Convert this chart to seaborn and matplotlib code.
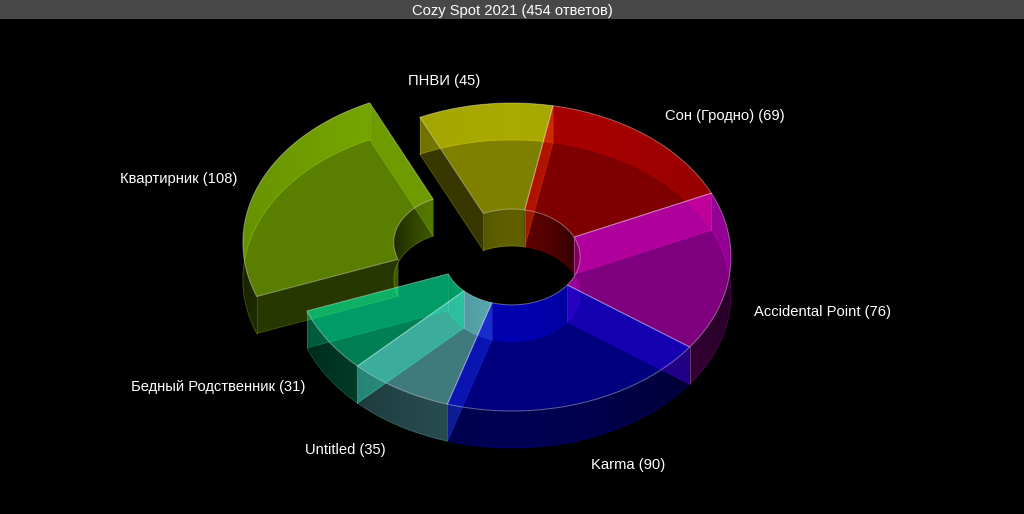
import numpy as np
import pandas as pd
import seaborn as sns
import matplotlib
matplotlib.use("Agg")
import matplotlib.pyplot as plt
from matplotlib.patches import Polygon

# ---- data -------------------------------------------------------------
names = ["ПНВИ", "Сон (Гродно)", "Accidental Point", "Karma", "Untitled",
         "Бедный Родственник", "Квартирник"]
votes = [45, 69, 76, 90, 35, 31, 108]
slice_colors = ["#ffff00", "#ff0000", "#ff00ff", "#0000ff", "#7ff5ff",
                "#00ffa8", "#b4ff00"]
exploded = [0, 0, 0, 0, 0, 0, 0.2475]
title = "Cozy Spot 2021 (454 ответов)"

# ---- layout -----------------------------------------------------------
CX, CY = 512, 257
RX, RY = 219, 154
HOLE = 0.311
DEPTH = 37
START = -24.88
paint_order = [0, 6, 1, 2, 4, 5, 3]
label_xy = [(444, 81), (725, 116), (822, 312), (628, 465), (345, 450),
            (218, 387), (179, 179)]

sns.set_theme(style="dark", rc={"figure.facecolor": "black",
                                "axes.facecolor": "black"})
plt.rcParams["font.family"] = ["Liberation Sans", "DejaVu Sans"]
palette = sns.color_palette(slice_colors)

df = pd.DataFrame({"name": names, "votes": votes, "explode": exploded})
df["sweep"] = df["votes"] / df["votes"].sum() * 360
df["a0"] = START + df["sweep"].cumsum().shift(fill_value=0)
df["a1"] = df["a0"] + df["sweep"]
df["mid"] = (df["a0"] + df["a1"]) / 2

fig = plt.figure(figsize=(10.24, 5.14), dpi=100)
ax = fig.add_axes([0, 0, 1, 1])
ax.set_xlim(0, 1024)
ax.set_ylim(514, 0)
ax.set_autoscale_on(False)
ax.axis("off")

z = [10]


def nz():
    z[0] += 1
    return z[0]


def arc(cx, cy, frac, a0, a1):
    t = np.radians(np.linspace(a0, a1, 120))
    return cx + frac * RX * np.sin(t), cy - frac * RY * np.cos(t)


def curved_wall(cx, cy, frac, a0, a1, col, peak):
    x, y = arc(cx, cy, frac, a0, a1)
    px = np.r_[x, x[::-1]]
    py = np.r_[y, y[::-1] + DEPTH]
    x0, x1 = px.min(), px.max()
    cols = np.linspace(x0, x1, max(int(x1 - x0), 2))
    n = (cols - cx) / (frac * RX)
    rgba = np.zeros((1, len(cols), 4))
    rgba[..., :3] = col
    rgba[..., 3] = peak * (0.45 + 0.55 * (1 - np.clip(n, -1, 1) ** 2))
    zz = nz()
    im = ax.imshow(rgba, extent=(x0, x1, py.max(), py.min()), aspect="auto",
                   interpolation="bilinear", zorder=zz)
    im.set_clip_path(Polygon(np.c_[px, py], closed=True, transform=ax.transData))
    ax.plot(x, y + DEPTH, color=col, lw=0.6, alpha=0.3, zorder=zz)


def radial_wall(cx, cy, a, col):
    xo, yo = arc(cx, cy, 1, a, a)
    xi, yi = arc(cx, cy, HOLE, a, a)
    ax.fill([xo[0], xi[0], xi[0], xo[0]],
            [yo[0], yi[0], yi[0] + DEPTH, yo[0] + DEPTH],
            color=col, alpha=0.22, lw=0, zorder=nz())
    for xx, yy in ((xo[0], yo[0]), (xi[0], yi[0])):
        ax.plot([xx, xx], [yy, yy + DEPTH], color="white", lw=0.6, alpha=0.15,
                zorder=z[0])
    ax.plot([xo[0], xi[0]], [yo[0] + DEPTH, yi[0] + DEPTH], color=col, lw=0.6,
            alpha=0.25, zorder=z[0])


for i in paint_order:
    row = df.loc[i]
    col = palette[i]
    m = np.radians(row["mid"])
    cx = CX + row["explode"] * RX * np.sin(m)
    cy = CY - row["explode"] * RY * np.cos(m)
    a0, a1 = row["a0"], row["a1"]

    curved_wall(cx, cy, HOLE, a0, a1, col, 0.38)
    radial_wall(cx, cy, a0, col)
    radial_wall(cx, cy, a1, col)
    curved_wall(cx, cy, 1, a0, a1, col, 0.33)

    xo, yo = arc(cx, cy, 1, a0, a1)
    xi, yi = arc(cx, cy, HOLE, a0, a1)
    px = np.r_[xo, xi[::-1]]
    py = np.r_[yo, yi[::-1]]
    ax.fill(px, py, color=col, alpha=0.5, lw=0, zorder=nz())
    ax.plot(np.r_[px, px[0]], np.r_[py, py[0]], color="white", lw=0.75,
            alpha=0.36, zorder=z[0], solid_joinstyle="round")

# ---- header and labels ------------------------------------------------
ax.fill([0, 1024, 1024, 0], [0, 0, 18.5, 18.5], color="#484848", lw=0, zorder=200)
ax.text(512, 10.5, title, color="white", fontsize=10.6, ha="center",
        va="center", zorder=201)
for (lx, ly), nm, v in zip(label_xy, names, votes):
    ax.text(lx, ly, f"{nm} ({v})", color="white", fontsize=10.6, ha="center",
            va="center", zorder=201)

fig.savefig("out.png", dpi=100, facecolor="black")
